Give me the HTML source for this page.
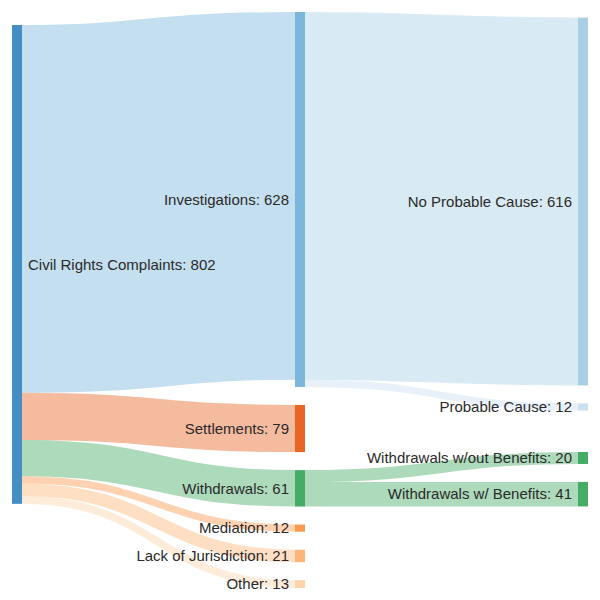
<!DOCTYPE html>
<html><head><meta charset="utf-8"><title>Sankey</title>
<style>html,body{margin:0;padding:0;background:#fff}svg{display:block}text{font-family:"Liberation Sans",Arial,sans-serif;font-size:15px;fill:#2a2a2a}</style></head>
<body>
<svg width="600" height="600" viewBox="0 0 600 600" xmlns="http://www.w3.org/2000/svg">
<g fill="none" stroke-opacity="0.4">
<path d="M22,208.89C158.5,208.89 158.5,195.89 295,195.89" stroke="#6baed6" stroke-width="367.78"/>
<path d="M22,416.37C158.5,416.37 158.5,428.53 295,428.53" stroke="#e6550d" stroke-width="47.17"/>
<path d="M22,458.16C158.5,458.16 158.5,488.33 295,488.33" stroke="#31a354" stroke-width="36.42"/>
<path d="M22,479.95C158.5,479.95 158.5,528.12 295,528.12" stroke="#fd8d3c" stroke-width="7.16"/>
<path d="M22,489.80C158.5,489.80 158.5,555.97 295,555.97" stroke="#fdae6b" stroke-width="12.54"/>
<path d="M22,499.95C158.5,499.95 158.5,584.12 295,584.12" stroke="#fdd0a2" stroke-width="7.76"/>
<path d="M305,195.89C441.5,195.89 441.5,201.49 578,201.49" stroke="#9ecae1" stroke-width="367.78"/>
<path d="M305,383.37C441.5,383.37 441.5,406.97 578,406.97" stroke="#c6dbef" stroke-width="7.16"/>
<path d="M305,476.09C441.5,476.09 441.5,457.97 578,457.97" stroke="#31a354" stroke-width="11.94"/>
<path d="M305,494.30C441.5,494.30 441.5,494.18 578,494.18" stroke="#31a354" stroke-width="24.48"/>
</g>
<g>
<rect x="12" y="25.00" width="10" height="478.84" fill="#3182bd" fill-opacity="0.9"/>
<rect x="295" y="12.00" width="10" height="374.95" fill="#6baed6" fill-opacity="0.9"/>
<rect x="295" y="404.95" width="10" height="47.17" fill="#e6550d" fill-opacity="0.9"/>
<rect x="295" y="470.12" width="10" height="36.42" fill="#31a354" fill-opacity="0.9"/>
<rect x="295" y="524.54" width="10" height="7.16" fill="#fd8d3c" fill-opacity="0.9"/>
<rect x="295" y="549.70" width="10" height="12.54" fill="#fdae6b" fill-opacity="0.9"/>
<rect x="295" y="580.24" width="10" height="7.76" fill="#fdd0a2" fill-opacity="0.9"/>
<rect x="578" y="17.60" width="10" height="367.78" fill="#9ecae1" fill-opacity="0.9"/>
<rect x="578" y="403.38" width="10" height="7.16" fill="#c6dbef" fill-opacity="0.9"/>
<rect x="578" y="452.00" width="10" height="11.94" fill="#31a354" fill-opacity="0.9"/>
<rect x="578" y="481.94" width="10" height="24.48" fill="#31a354" fill-opacity="0.9"/>
</g>
<g>
<text x="28" y="264.42" dy="0.35em" text-anchor="start">Civil Rights Complaints: 802</text>
<text x="289" y="199.47" dy="0.35em" text-anchor="end">Investigations: 628</text>
<text x="289" y="428.53" dy="0.35em" text-anchor="end">Settlements: 79</text>
<text x="289" y="488.33" dy="0.35em" text-anchor="end">Withdrawals: 61</text>
<text x="289" y="528.12" dy="0.35em" text-anchor="end">Mediation: 12</text>
<text x="289" y="555.97" dy="0.35em" text-anchor="end">Lack of Jurisdiction: 21</text>
<text x="289" y="584.12" dy="0.35em" text-anchor="end">Other: 13</text>
<text x="572" y="201.49" dy="0.35em" text-anchor="end">No Probable Cause: 616</text>
<text x="572" y="406.97" dy="0.35em" text-anchor="end">Probable Cause: 12</text>
<text x="572" y="457.97" dy="0.35em" text-anchor="end">Withdrawals w/out Benefits: 20</text>
<text x="572" y="494.18" dy="0.35em" text-anchor="end">Withdrawals w/ Benefits: 41</text>
</g>
</svg>
</body></html>
